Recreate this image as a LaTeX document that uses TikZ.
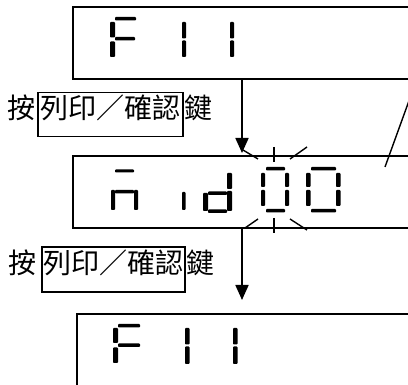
\documentclass[tikz,border=0pt]{standalone}
\usepackage{fontspec}
\newfontfamily\cjk{Noto Sans CJK TC}
\usetikzlibrary{arrows.meta}
\newcommand\segm[4]{\fill[seg] (#1,#2) rectangle (#3,#4);}
\begin{document}
\begin{tikzpicture}[x=1pt,y=-1pt,
  frame/.style={draw, line width=2pt, anchor=north west, inner sep=0pt, outer sep=0pt, minimum width=360pt, minimum height=72pt},
  seg/.style={fill=black, rounded corners=0.8pt},
  arr/.style={line width=1.8pt, -{Triangle[length=15pt,width=13pt]}},
  flash/.style={line width=1.4pt},
  lbl/.style={font=\cjk\fontsize{28}{28}\selectfont, inner sep=0pt, outer sep=0pt, text height=0.88em, text depth=0.12em},
  key/.style={lbl, draw, line width=1.5pt, minimum height=44pt}]
\useasboundingbox (0,0) rectangle (408,385);
\clip (0,0) rectangle (408,385);
% display frames
\node[frame] (top) at (73,7) {};
\node[frame] (mid) at (73,156) {};
\node[frame] (bot) at (77,314) {};
% top: F11
\segm{110}{22}{115}{37.5}
\segm{110}{41.5}{115}{57}
\segm{115}{17}{136}{20.5}
\segm{115}{37}{135}{40.5}
\segm{182}{22}{186}{38.5}
\segm{182}{40.5}{186}{57}
\segm{230}{22}{234}{38.5}
\segm{230}{40.5}{234}{57}
% middle: n-bar, i, d, 0, 0
\segm{115}{169.5}{134}{172.5}
\segm{111}{190}{115}{210}
\segm{115}{190}{134}{193.5}
\segm{134}{190}{138}{210}
\segm{182}{192}{185.5}{210}
\segm{227}{173}{232}{189}
\segm{227}{191}{232}{211}
\segm{203}{193}{208}{211}
\segm{208}{191.5}{227}{195}
\segm{208}{209.5}{227}{213}
\segm{261}{173}{265}{187}
\segm{261}{190}{265}{206}
\segm{266}{167}{285}{170.5}
\segm{266}{209}{285}{212.5}
\segm{285}{173}{289}{187}
\segm{285}{190}{289}{206}
\segm{306}{173}{310.5}{187}
\segm{306}{190}{310.5}{206}
\segm{311}{167}{336}{170.5}
\segm{311}{209}{336}{212.5}
\segm{336}{173}{340.5}{187}
\segm{336}{190}{340.5}{206}
% bottom: F11
\segm{113}{328}{118}{343}
\segm{113}{347.5}{118}{363}
\segm{118}{324}{140}{327.5}
\segm{118}{343.5}{140}{347}
\segm{185}{328}{189.5}{344.5}
\segm{185}{346.5}{189.5}{364}
\segm{233}{328}{237.5}{344.5}
\segm{233}{346.5}{237.5}{364}
% flashing marks
\draw[flash] (274,147) -- (274,162);
\draw[flash] (274,218) -- (274,233);
\draw[flash] (243,150) -- (258,159);
\draw[flash] (290,159) -- (307,147);
\draw[flash] (245,228) -- (258,219);
\draw[flash] (290,219) -- (307,230);
% pointer line
\draw[flash] (410,98) -- (385,167);
% arrows
\coordinate (ax) at (242,0);
\draw[arr] (top.south -| ax) -- ([yshift=3pt]mid.north -| ax);
\draw[arr] (mid.south -| ax) -- ([yshift=14pt]bot.north -| ax);
% labels
\node[key, minimum width=145pt] (k1) at (110.5,114.5) {列印／確認};
\node[lbl, anchor=east] (p1) at ([xshift=-2pt]k1.west) {按};
\node[lbl, anchor=west] (q1) at ([xshift=1pt]k1.east) {鍵};
\node[key, minimum width=143pt, minimum height=45pt] (k2) at (113.5,269.5) {列印／確認};
\node[lbl, anchor=east] (p2) at ([xshift=-5pt]k2.west) {按};
\node[lbl, anchor=west] (q2) at ([xshift=1pt]k2.east) {鍵};
\end{tikzpicture}
\end{document}
